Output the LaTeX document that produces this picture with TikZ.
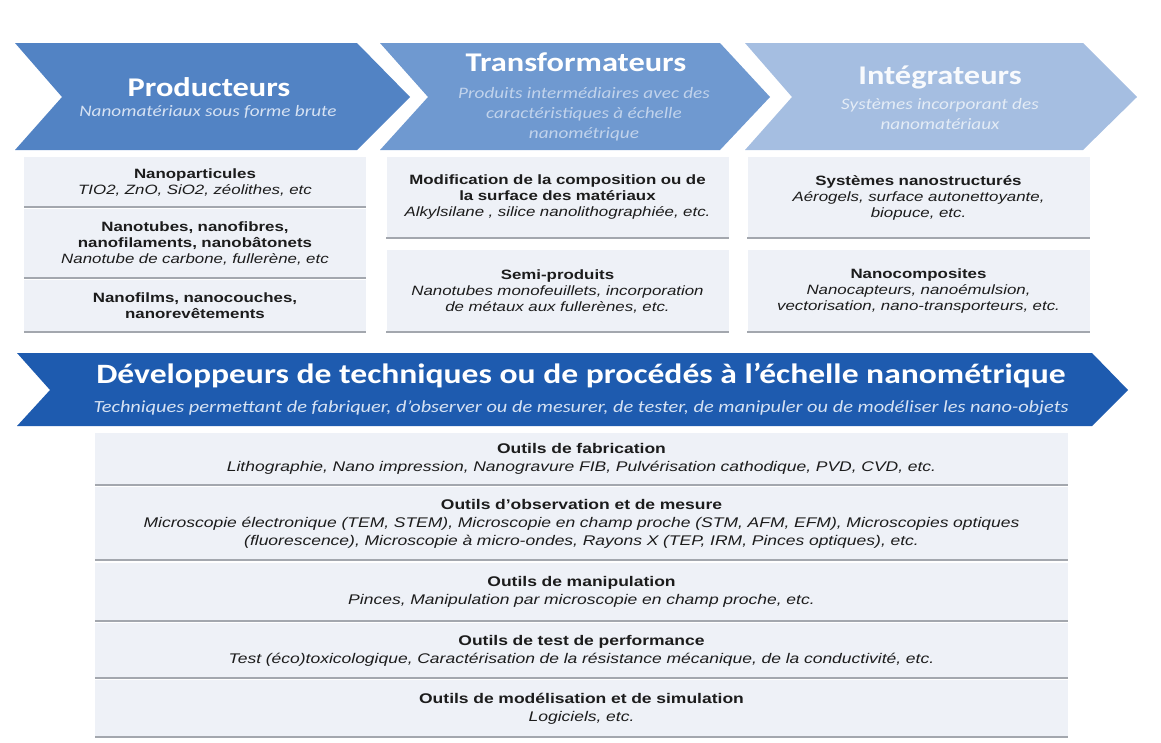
\documentclass[tikz,border=0pt]{standalone}
\usepackage{fontspec}
\setmainfont{Liberation Sans}
\newfontfamily\cellfont[FakeStretch=1.25]{Liberation Sans}
\newfontfamily\headfont[FakeStretch=1.2]{Carlito}

\definecolor{prodblue}{HTML}{5283C4}
\definecolor{transblue}{HTML}{6F99D0}
\definecolor{integblue}{HTML}{A5BEE1}
\definecolor{devblue}{HTML}{1E5BAF}
\definecolor{cellfill}{HTML}{EEF1F7}
\definecolor{cellshadow}{HTML}{A3A7AE}
\definecolor{celltext}{HTML}{1C1C1C}
\definecolor{subtext}{HTML}{D6E2F3}

\begin{document}
\begin{tikzpicture}[x=1pt, y=-1pt,
  cell/.style={fill=cellfill, inner sep=0pt, align=center, text=celltext,
    font=\cellfont\fontsize{13.5}{16}\selectfont},
  colcell/.style={cell, minimum width=342pt, text width=336pt},
  widecell/.style={cell, minimum width=973pt, text width=960pt,
    font=\cellfont\fontsize{14}{18}\selectfont},
  headtitle/.style={text=white, inner sep=0pt,
    font=\headfont\bfseries\fontsize{27}{30}\selectfont},
  headsub/.style={text=subtext, inner sep=0pt, align=center,
    font=\headfont\itshape\fontsize{16}{20}\selectfont},
  shadowline/.style={cellshadow, line width=2.5pt}]
  \useasboundingbox (0,0) rectangle (1161,742);

  % chevrons of the value chain
  \fill[prodblue]  (15,43) -- (357,43) -- (410,97) -- (357,150) -- (15,150) -- (62,97) -- cycle;
  \fill[transblue] (380,43) -- (720,43) -- (770,97) -- (720,150) -- (380,150) -- (428,97) -- cycle;
  \fill[integblue] (745,43) -- (1083,43) -- (1137,97) -- (1083,150) -- (745,150) -- (792,97) -- cycle;
  \fill[devblue]   (17,353) -- (1092,353) -- (1128,390) -- (1092,426) -- (17,426) -- (50,390) -- cycle;

  \node[headtitle] (prodT) at (209,87) {Producteurs};
  \node[headsub] (prodS) at (208,112) {Nanomatériaux sous forme brute};
  \node[headtitle] (transT) at (576,62) {Transformateurs};
  \node[headsub, text=subtext!80!transblue] (transS) at (584,114)
    {Produits intermédiaires avec des\\caractéristiques à échelle\\nanométrique};
  \node[headtitle, text=white!92!integblue] (integT) at (940,77) {Intégrateurs};
  \node[headsub, text=white!70!integblue] (integS) at (940,114)
    {Systèmes incorporant des\\nanomatériaux};
  \node[headtitle, font=\headfont\bfseries\fontsize{28}{30}\selectfont] (devT) at (581,376)
    {Développeurs de techniques ou de procédés à l’échelle nanométrique};
  \node[headsub, font=\headfont\itshape\fontsize{17}{20}\selectfont] (devS) at (581,408)
    {Techniques permettant de fabriquer, d’observer ou de mesurer, de tester, de manipuler ou de modéliser les nano-objets};

  % producteurs
  \node[colcell, minimum height=50pt] (np) at (195,182)
    {\textbf{Nanoparticules}\\\textit{TIO2, ZnO, SiO2, zéolithes, etc}};
  \node[colcell, minimum height=69pt] (nt) at (195,243.5)
    {\textbf{Nanotubes, nanofibres,}\\\textbf{nanofilaments, nanobâtonets}\\\textit{Nanotube de carbone, fullerène, etc}};
  \node[colcell, minimum height=52pt] (nf) at (195,306)
    {\textbf{Nanofilms, nanocouches,}\\\textbf{nanorevêtements}};
  % transformateurs
  \node[colcell, minimum height=81pt] (modif) at (557.5,197.5)
    {\textbf{Modification de la composition ou de}\\\textbf{la surface des matériaux}\\\textit{Alkylsilane , silice nanolithographiée, etc.}};
  \node[colcell, minimum height=82pt] (semi) at (557.5,291)
    {\textbf{Semi-produits}\\\textit{Nanotubes monofeuillets, incorporation}\\\textit{de métaux aux fullerènes, etc.}};
  % integrateurs
  \node[colcell, minimum height=81pt] (sys) at (918.5,197.5)
    {\textbf{Systèmes nanostructurés}\\\textit{Aérogels, surface autonettoyante,}\\\textit{biopuce, etc.}};
  \node[colcell, minimum height=82pt] (comp) at (918.5,291)
    {\textbf{Nanocomposites}\\\textit{Nanocapteurs, nanoémulsion,}\\\textit{vectorisation,  nano-transporteurs, etc.}};

  % outils
  \node[widecell, minimum height=52pt] (fab) at (581.5,459)
    {\textbf{Outils de fabrication}\\\textit{Lithographie, Nano impression, Nanogravure FIB, Pulvérisation cathodique, PVD, CVD, etc.}};
  \node[widecell, minimum height=73pt] (obs) at (581.5,523.5)
    {\textbf{Outils d’observation et de mesure}\\\textit{Microscopie électronique (TEM, STEM), Microscopie en champ proche (STM, AFM, EFM), Microscopies optiques}\\\textit{(fluorescence), Microscopie à micro-ondes, Rayons X (TEP, IRM, Pinces optiques), etc.}};
  \node[widecell, minimum height=58pt] (manip) at (581.5,592)
    {\textbf{Outils de manipulation}\\\textit{Pinces, Manipulation par microscopie en champ proche, etc.}};
  \node[widecell, minimum height=55pt] (perf) at (581.5,650.5)
    {\textbf{Outils de test de performance}\\\textit{Test (éco)toxicologique, Caractérisation de la résistance mécanique, de la conductivité, etc.}};
  \node[widecell, minimum height=57pt] (simu) at (581.5,708.5)
    {\textbf{Outils de modélisation et de simulation}\\\textit{Logiciels, etc.}};

  \foreach \c in {np,nt,nf,modif,semi,sys,comp,fab,obs,manip,perf,simu}
    \draw[shadowline] (\c.south west) -- (\c.south east);
\end{tikzpicture}
\end{document}
